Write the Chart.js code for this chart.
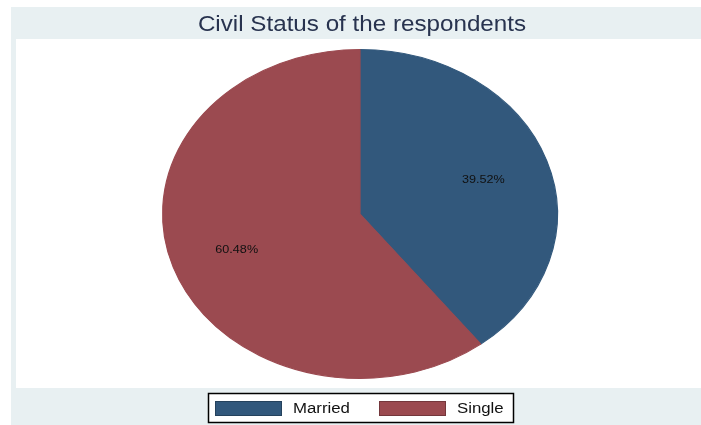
<!DOCTYPE html>
<html>
<head>
<meta charset="utf-8">
<title>Civil Status of the respondents</title>
<script src="https://cdn.jsdelivr.net/npm/chart.js@4.4.1/dist/chart.umd.min.js"></script>
<style>
  html, body { margin: 0; padding: 0; background: #fff; }
  #wrap { width: 701px; height: 425px; }
</style>
</head>
<body>
<div id="wrap"><canvas id="grafica" width="701" height="425"></canvas></div>
<script>
// civil status shares (percent)
const titulo = 'Civil Status of the respondents';
const estados = ['Married', 'Single'];
const porcentajes = [39.52, 60.48];
const colores = ['#32587c', '#9b4a50'];

// the graph is drawn wider than tall, so everything gets stretched in x
const estirar = 1.2;
const fuente = '"Liberation Sans", Arial, sans-serif';

function textoEstirado(ctx, texto, x, y, size, color, align, sx) {
    sx = sx || estirar;
    ctx.save();
    ctx.font = size + 'px ' + fuente;
    ctx.fillStyle = color;
    ctx.textBaseline = 'alphabetic';
    let w = ctx.measureText(texto).width * sx;
    let x0 = x;
    if (align == 'center') x0 = x - w / 2;
    ctx.translate(x0, y);
    ctx.scale(sx, 1);
    ctx.textAlign = 'left';
    ctx.fillText(texto, 0, 0);
    ctx.restore();
}

const pastelEstirado = {
    id: 'pastelEstirado',
    beforeDraw(chart) {
        const ctx = chart.ctx;
        ctx.save();
        ctx.fillStyle = '#e8f0f2';
        ctx.fillRect(11, 7, 690, 418);
        ctx.fillStyle = '#ffffff';
        ctx.fillRect(16, 39, 685, 349);
        ctx.restore();
        textoEstirado(ctx, titulo, 362, 31, 22, '#28334f', 'center', 1.1);
    },
    beforeDatasetsDraw(chart) {
        const ctx = chart.ctx;
        const arc = chart.getDatasetMeta(0).data[0];
        ctx.save();
        ctx.translate(arc.x, 0);
        ctx.scale(estirar, 1);
        ctx.translate(-arc.x, 0);
    },
    afterDatasetsDraw(chart) {
        const ctx = chart.ctx;
        ctx.restore();
        // percentage labels inside each slice
        chart.getDatasetMeta(0).data.forEach(function (arc, i) {
            let a = (arc.startAngle + arc.endAngle) / 2;
            let r = arc.outerRadius * 0.66;
            let x = arc.x + Math.cos(a) * r * estirar;
            let y = arc.y + Math.sin(a) * r;
            textoEstirado(ctx, porcentajes[i].toFixed(2) + '%', x, y + 4, 10.5, '#111', 'center');
        });
    },
    afterDraw(chart) {
        const ctx = chart.ctx;
        // legend box under the plot
        ctx.save();
        ctx.fillStyle = '#fff';
        ctx.fillRect(208, 393, 305, 29);
        ctx.strokeStyle = '#000';
        ctx.lineWidth = 1.5;
        ctx.strokeRect(208.5, 393.5, 305, 29);
        estados.forEach(function (e, i) {
            let x = 215 + i * 164;
            ctx.fillStyle = colores[i];
            ctx.fillRect(x, 401, 67, 15);
            ctx.strokeStyle = 'rgba(0,0,0,0.25)';
            ctx.lineWidth = 1;
            ctx.strokeRect(x + 0.5, 401.5, 66, 14);
            textoEstirado(ctx, e, x + 78, 413, 14, '#111', 'left');
        });
        ctx.restore();
    }
};

const ctx = document.getElementById('grafica');
const mychart = new Chart(ctx, {
    type: 'pie',
    data: {
        labels: estados,
        datasets: [{
            data: porcentajes,
            backgroundColor: colores,
            borderColor: colores,
            borderWidth: 1
        }]
    },
    options: {
        responsive: false,
        animation: false,
        devicePixelRatio: 1,
        layout: {
            padding: { left: 195, right: 176, top: 49, bottom: 46 }
        },
        plugins: {
            legend: { display: false },
            title: { display: false },
            tooltip: { enabled: false }
        }
    },
    plugins: [pastelEstirado]
});
</script>
</body>
</html>
